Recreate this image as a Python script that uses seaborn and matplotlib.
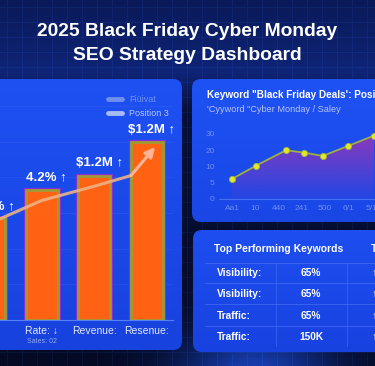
import numpy as np
import matplotlib
matplotlib.use("Agg")
import matplotlib.pyplot as plt
import seaborn as sns
from matplotlib.patches import FancyBboxPatch
from matplotlib.lines import Line2D

W, H = 375, 366

# --- bar chart (left panel) ---
bar_cats = ["Conversion", "Rate: \u2193", "Revenue:", "Resenue:"]
bar_heights = [57, 73, 81, 100]
bar_labels = ["3.1%", "4.2%", "$1.2M", "$1.2M"]
trend_x = [0, 1, 2, 2.7]
trend_y = [54, 67, 75, 81]
trend_tip = (3.16, 97)
legend_labels = ["Fi\u00fcivat", "Position 3"]

# --- keyword position line chart (top right) ---
pos_x = [0, 1.03, 2.32, 3.09, 3.9, 4.98, 6.1]
pos_y = [1.23, 2.05, 3.0, 2.85, 2.65, 3.26, 3.9]
pos_xticks = ["Aa1", "10", "440", "241", "500", "6/1", "5/1"]
pos_yticks = ["0", "5", "10", "20", "30"]

# --- table (bottom right) ---
kw_labels = ["Visibility:", "Visibility:", "Traffic:", "Traffic:"]
kw_values = ["65%", "65%", "65%", "150K"]


def frac(x0, y0, x1, y1):
    # pixel box -> figure fraction
    return [x0 / W, 1 - y1 / H, (x1 - x0) / W, (y1 - y0) / H]


sns.set_theme(style="dark")
plt.rcParams["font.family"] = ["Liberation Sans", "DejaVu Sans"]

fig = plt.figure(figsize=(W / 100, H / 100), dpi=100)
bg = fig.add_axes([0, 0, 1, 1])
bg.axis("off")
bg.set_autoscale_on(False)
bg.set_xlim(0, W)
bg.set_ylim(H, 0)

# background: navy gradient, faint grid, glow at the bottom
yy, xx = np.mgrid[0:H, 0:W]
stops = [0, 72, 110, 366]
cols = np.array([[10, 25, 88], [14, 36, 118], [7, 16, 58], [4, 10, 36]], float)
img = np.stack([np.interp(yy, stops, cols[:, c]) for c in range(3)], axis=-1)
d = np.sqrt((xx - 255) ** 2 + ((yy - 380) * 1.5) ** 2)
img += np.exp(-(d / 75) ** 2)[..., None] * np.array([20, 55, 150])
grid = ((xx % 15) == 7) | ((yy % 15) == 7)
img[grid] += np.array([5, 9, 18])
bg.imshow(np.clip(img, 0, 255) / 255, extent=(0, W, H, 0), aspect="auto", zorder=0)


def panel(x0, y0, x1, y1, c_top, c_bot):
    p = FancyBboxPatch((x0, y0), x1 - x0, y1 - y0,
                       boxstyle="round,pad=0,rounding_size=9", fc="none", ec="none")
    bg.add_patch(p)
    g = np.linspace(0, 1, 64)[:, None, None]
    arr = (1 - g) * np.array(c_top, float) + g * np.array(c_bot, float)
    im = bg.imshow(arr / 255, extent=(x0, x1, y1, y0), aspect="auto",
                   interpolation="bilinear", zorder=1)
    im.set_clip_path(p)


panel(-20, 79, 182, 350, (30, 80, 242), (24, 66, 222))
panel(192, 79, 400, 222, (30, 82, 244), (26, 70, 230))
panel(193, 230, 400, 352, (30, 78, 240), (24, 66, 224))

bg.text(187.5, 32, "2025 Black Friday Cyber Monday", ha="center", va="center",
        fontsize=13.9, weight="bold", color="white")
bg.text(187.5, 56, "SEO Strategy Dashboard", ha="center", va="center",
        fontsize=13.9, weight="bold", color="white")

# ---------------- bar chart ----------------
ax1 = fig.add_axes(frac(0, 90, 173, 320))
ax1.set_facecolor("none")
sns.barplot(x=bar_cats, y=bar_heights, ax=ax1, color="#8a2fd8", saturation=1,
            width=0.61, edgecolor="#8a2fd8", linewidth=3.6, zorder=2)
sns.barplot(x=bar_cats, y=bar_heights, ax=ax1, color="#ff6212", saturation=1,
            width=0.61, edgecolor="#a09a36", linewidth=2.0, zorder=3)
ax1.plot(trend_x, trend_y, color="#eeb184", lw=2.2, alpha=0.9, zorder=4,
         solid_capstyle="round")
ax1.annotate("", xy=trend_tip, xytext=(trend_x[-1], trend_y[-1]), zorder=4,
             arrowprops=dict(arrowstyle="-|>", color="#ffb595", lw=2.2,
                             mutation_scale=14, shrinkA=0, shrinkB=0))
for i, (h, lab) in enumerate(zip(bar_heights, bar_labels)):
    ax1.text(i + 0.1, h + 6.8, lab + " \u2191", ha="center", va="center",
             fontsize=9.5, weight="bold", color="white", zorder=5)
ax1.set_xlim(0.21, 3.50)
ax1.set_ylim(0, 129)
ax1.set_yticks([20, 40, 60, 80, 100, 120])
ax1.set_yticklabels([])
ax1.yaxis.grid(True, color="#4a74f4", lw=0.5, alpha=0.3)
ax1.xaxis.grid(False)
for s in ["top", "right", "left"]:
    ax1.spines[s].set_visible(False)
ax1.spines["bottom"].set_color("#5580f6")
ax1.spines["bottom"].set_linewidth(0.8)
ax1.tick_params(axis="x", length=0, pad=4, labelsize=7.5, labelcolor="#e2e9ff")
ax1.tick_params(axis="y", length=0)
ax1.set_xlabel("")
ax1.set_ylabel("")
ax1.text(1, -0.092, "Sates: 02", transform=ax1.get_xaxis_transform(),
         ha="center", va="center", fontsize=5, color="#8fa7f0")

handles = [Line2D([], [], color="#6f8fef", lw=3.5, solid_capstyle="round"),
           Line2D([], [], color="#a6bcf7", lw=3.5, solid_capstyle="round")]
leg = fig.legend(handles, legend_labels, loc="upper left",
                 bbox_to_anchor=(100 / W, 1 - 87 / H), frameon=False,
                 fontsize=6.5, handlelength=1.5, handletextpad=0.8,
                 labelspacing=0.55, labelcolor="#b8c6f7")
leg.get_texts()[0].set_alpha(0.55)

# ---------------- keyword position line chart ----------------
bg.text(207, 95, "Keyword \"Black Friday Deals': Position", ha="left", va="center",
        fontsize=7.2, weight="bold", color="white", zorder=6)
bg.text(207, 109, "'Cyyword \"Cyber Monday / Saley", ha="left", va="center",
        fontsize=6.6, color="#b7c6f8", zorder=6)

ax2 = fig.add_axes(frac(219, 118, 375, 203))
ax2.set_facecolor("none")
fill = ax2.fill_between(pos_x, pos_y, 0, color="none", lw=0)
g = np.linspace(1, 0, 100)[:, None]
grad = np.zeros((100, 1, 4))
grad[..., 0] = 165 / 255
grad[..., 1] = 52 / 255
grad[..., 2] = 175 / 255
grad[..., 3] = 0.08 + 0.8 * g ** 1.1
im = ax2.imshow(grad, extent=(-1, 7, 0, 4.2), origin="upper", aspect="auto",
                interpolation="bilinear", zorder=1)
im.set_clip_path(fill.get_paths()[0], transform=ax2.transData)
ax2.axhline(0, color="#4470f2", lw=0.8, zorder=1)
sns.lineplot(x=pos_x, y=pos_y, ax=ax2, color="#9cb043", linewidth=1.3,
             marker="o", markersize=4.5, markerfacecolor="#e4e62c",
             markeredgecolor="#98b838", markeredgewidth=0.6, zorder=3)
ax2.set_xlim(-0.56, 6.14)
ax2.set_ylim(-0.246, 4.98)
ax2.set_xticks(range(len(pos_xticks)))
ax2.set_xticklabels(pos_xticks)
ax2.set_yticks(range(len(pos_yticks)))
ax2.set_yticklabels(pos_yticks)
ax2.tick_params(length=0, labelsize=6, labelcolor="#6f8ef0")
ax2.tick_params(axis="x", pad=1.5)
ax2.tick_params(axis="y", pad=3)
ax2.grid(False)
for s in ax2.spines.values():
    s.set_visible(False)

# ---------------- table ----------------
bg.text(214, 249, "Top Performing Keywords", ha="left", va="center",
        fontsize=7.5, weight="bold", color="white", zorder=6)
bg.text(371, 249, "Trend", ha="left", va="center",
        fontsize=7.5, weight="bold", color="white", zorder=6)
row_y = [273, 294, 316, 337]
for y in [263, 283, 304, 326]:
    bg.plot([205, 375], [y, y], color="#4a76f4", lw=0.6, alpha=0.7, zorder=5)
for x in [276, 347]:
    bg.plot([x, x], [263, 346], color="#4a76f4", lw=0.6, alpha=0.6, zorder=5)
for y, lab, val in zip(row_y, kw_labels, kw_values):
    bg.text(217, y, lab, ha="left", va="center", fontsize=7.3, weight="bold",
            color="white", zorder=6)
    bg.text(311, y, val, ha="center", va="center", fontsize=7.3, weight="bold",
            color="white", zorder=6)
    bg.text(372, y, "\u2191", ha="left", va="center", fontsize=7,
            color="#c2d0ff", zorder=6)

fig.savefig("out.png", dpi=100)
